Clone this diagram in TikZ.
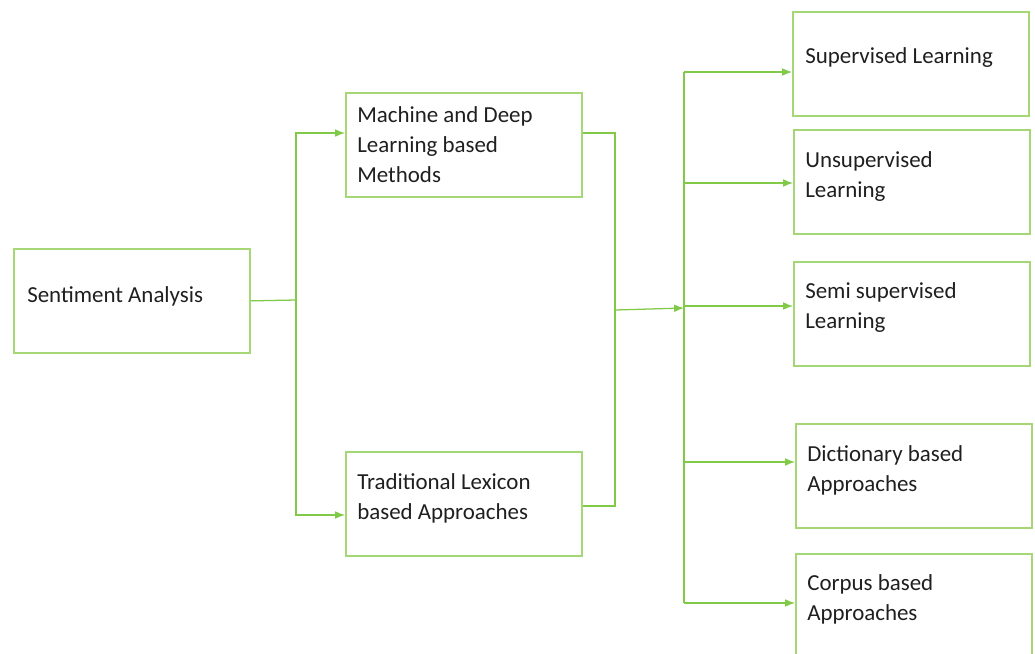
\documentclass[tikz,border=0pt]{standalone}
\usepackage{fontspec}
\setmainfont{Carlito}
\usetikzlibrary{arrows.meta, calc}

\definecolor{boxgreen}{RGB}{165,215,118}
\definecolor{linkgreen}{RGB}{128,202,72}

\begin{document}
\begin{tikzpicture}[x=0.025cm, y=-0.025cm,
  box/.style={draw=boxgreen, line width=1.2pt, minimum width=5.9cm, minimum height=2.6cm, inner sep=0pt, anchor=north west},
  txt/.style={anchor=base west, align=left, inner sep=0pt, font=\fontsize{16.3}{21.3}\selectfont, text=black!88},
  conn/.style={draw=linkgreen, line width=0.9pt},
  arr/.style={conn, -{Latex[length=7pt,width=5.5pt]}}]
% Page frame, the last box runs off the bottom
\clip (0,0) rectangle (1035,653);
% Left and middle boxes (text anchored on its last line)
\node[box] (sa) at (13,248) {};
\node[txt] (sa-t) at (27,302) {Sentiment Analysis};
\node[box] (mdl) at (345,92) {};
\node[txt] (mdl-t) at (357,182) {Machine and Deep\\Learning based\\Methods};
\node[box] (tla) at (345,451) {};
\node[txt] (tla-t) at (357,519) {Traditional Lexicon\\based Approaches};
% Right column of boxes
\node[box] (sl) at (792,11) {};
\node[txt] (sl-t) at (805,63) {Supervised Learning};
\node[box] (ul) at (793,129) {};
\node[txt] (ul-t) at (805,197) {Unsupervised\\Learning};
\node[box] (ssl) at (793,261) {};
\node[txt] (ssl-t) at (805,328) {Semi supervised\\Learning};
\node[box] (dba) at (795,423) {};
\node[txt] (dba-t) at (807,491) {Dictionary based\\Approaches};
\node[box] (cba) at (795,553) {};
\node[txt] (cba-t) at (807,620) {Corpus based\\Approaches};
% First split
\coordinate (j1) at (296,300);
\draw[conn] (sa.east) -- (j1);
\draw[arr] (j1) |- (mdl.west |- 0,133);
\draw[arr] (j1) |- (tla.west |- 0,515);
% Both methods join again
\coordinate (j2) at (615,310);
\draw[conn] (mdl.east |- 0,133) -| (j2);
\draw[conn] (tla.east |- 0,506) -| (j2);
\coordinate (j3) at (684,308);
\draw[arr] (j2) -- (j3);
% Second split into the five kinds
\draw[conn] (684,72) -- (684,603);
\draw[arr] (684,72) -- (sl.west |- 0,72);
\draw[arr] (684,183) -- (ul.west |- 0,183);
\draw[arr] (684,306) -- (ssl.west |- 0,306);
\draw[arr] (684,462) -- (dba.west |- 0,462);
\draw[arr] (684,603) -- (cba.west |- 0,603);
\end{tikzpicture}
\end{document}
